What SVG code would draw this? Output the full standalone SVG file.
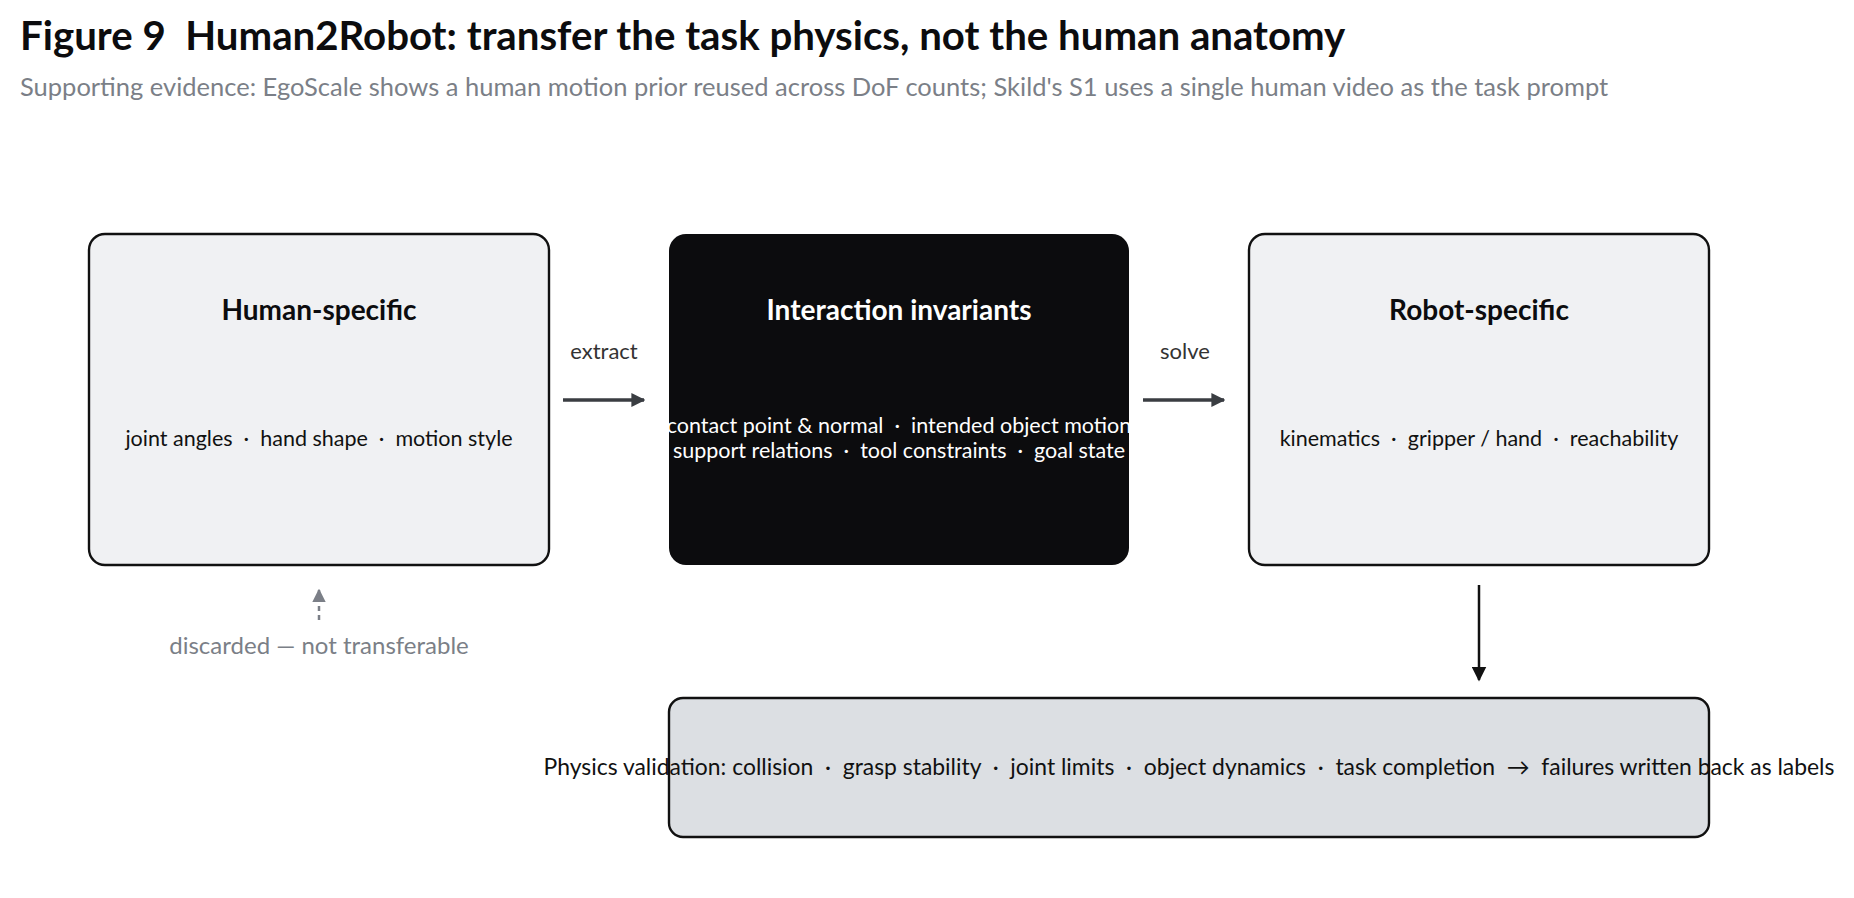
<svg xmlns="http://www.w3.org/2000/svg" width="1854" height="898" viewBox="0 0 1854 898">
<defs>
<style>
text{font-family:"Lato","Liberation Sans",sans-serif;white-space:pre;}
.title{font-size:40.2px;font-weight:700;fill:#0c0c0e;}
.sub{font-size:25.5px;fill:#7b7f87;}
.h{font-size:28px;font-weight:700;text-anchor:middle;}
.b{font-size:21.5px;text-anchor:middle;}
.bv{font-size:22.9px;text-anchor:middle;fill:#111;}
.lbl{font-size:22px;fill:#333;text-anchor:middle;}
.gl{font-size:24px;fill:#7b7f87;text-anchor:middle;}
.light{fill:#f0f1f3;stroke:#111;stroke-width:2.4;}
.dark{fill:#0c0c0e;}
.valid{fill:#dcdfe3;stroke:#111;stroke-width:2.4;}
</style>
<marker id="ah" viewBox="0 0 10 10" refX="9" refY="5" markerWidth="4" markerHeight="4" orient="auto" markerUnits="strokeWidth"><path d="M0,0 L10,5 L0,10 z" fill="#3a3d42"/></marker>
<marker id="ahk" viewBox="0 0 10 10" refX="9" refY="5" markerWidth="6" markerHeight="6" orient="auto" markerUnits="strokeWidth"><path d="M0,0 L10,5 L0,10 z" fill="#111"/></marker>
<marker id="ahg" viewBox="0 0 10 10" refX="9" refY="5" markerWidth="5.5" markerHeight="5.5" orient="auto" markerUnits="strokeWidth"><path d="M0,0 L10,5 L0,10 z" fill="#7b7f87"/></marker>
</defs>
<rect width="1854" height="898" fill="#fff"/>
<text class="title" x="20" y="50" xml:space="preserve">Figure 9  Human2Robot: transfer the task physics, not the human anatomy</text>
<text class="sub" x="20" y="96">Supporting evidence: EgoScale shows a human motion prior reused across DoF counts; Skild's S1 uses a single human video as the task prompt</text>

<g id="human">
<rect class="light" x="89" y="234" width="460" height="331" rx="16"/>
<text class="h" x="319" y="320" fill="#0c0c0e">Human-specific</text>
<text class="b" x="319" y="446" fill="#111" xml:space="preserve">joint angles  ·  hand shape  ·  motion style</text>
</g>

<g id="invariants">
<rect class="dark" x="669" y="234" width="460" height="331" rx="17"/>
<text class="h" x="899" y="320" fill="#fff">Interaction invariants</text>
<text class="b" x="899" y="433" fill="#fff" xml:space="preserve">contact point &amp; normal  ·  intended object motion</text>
<text class="b" x="899" y="458" fill="#fff" xml:space="preserve">support relations  ·  tool constraints  ·  goal state</text>
</g>

<g id="robot">
<rect class="light" x="1249" y="234" width="460" height="331" rx="16"/>
<text class="h" x="1479" y="320" fill="#0c0c0e">Robot-specific</text>
<text class="b" x="1479" y="446" fill="#111" xml:space="preserve">kinematics  ·  gripper / hand  ·  reachability</text>
</g>

<g id="validation">
<rect class="valid" x="669" y="698" width="1040" height="139" rx="14"/>
<text class="bv" x="1189" y="775" xml:space="preserve">Physics validation: collision  ·  grasp stability  ·  joint limits  ·  object dynamics  ·  task completion  →  failures written back as labels</text>
</g>

<g id="discarded">
<text class="gl" x="319" y="654">discarded — not transferable</text>
</g>

<g id="connectors">
<line x1="563" y1="400" x2="644" y2="400" stroke="#3a3d42" stroke-width="3.5" marker-end="url(#ah)"/>
<text class="lbl" x="604" y="359">extract</text>
<line x1="1143" y1="400" x2="1224" y2="400" stroke="#3a3d42" stroke-width="3.5" marker-end="url(#ah)"/>
<text class="lbl" x="1185" y="359">solve</text>
<line x1="1479" y1="585" x2="1479" y2="680" stroke="#111" stroke-width="2.5" marker-end="url(#ahk)"/>
<line x1="319" y1="620" x2="319" y2="590" stroke="#7b7f87" stroke-width="2.5" stroke-dasharray="5 4" marker-end="url(#ahg)"/>
</g>
</svg>
